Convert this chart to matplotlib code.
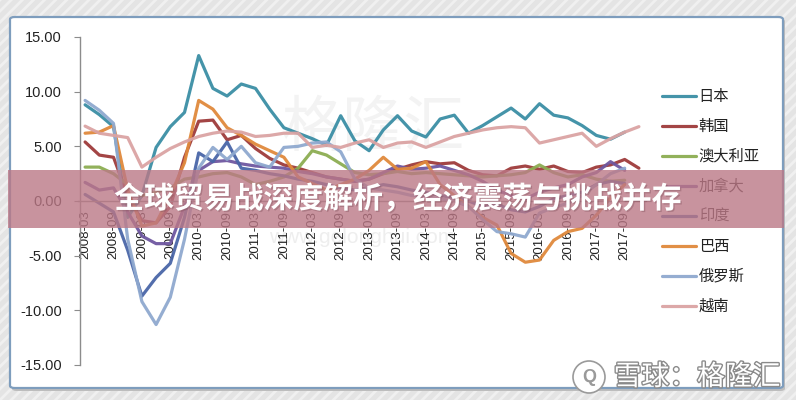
import matplotlib
matplotlib.use('Agg')
import matplotlib.pyplot as plt
import matplotlib.patheffects as pe
from matplotlib.patches import FancyBboxPatch, Rectangle, Ellipse
import numpy as np

nan = np.nan

quarters = ['2008-03', '2008-06', '2008-09', '2008-12', '2009-03', '2009-06', '2009-09', '2009-12',
            '2010-03', '2010-06', '2010-09', '2010-12', '2011-03', '2011-06', '2011-09', '2011-12',
            '2012-03', '2012-06', '2012-09', '2012-12', '2013-03', '2013-06', '2013-09', '2013-12',
            '2014-03', '2014-06', '2014-09', '2014-12', '2015-03', '2015-06', '2015-09', '2015-12',
            '2016-03', '2016-06', '2016-09', '2016-12', '2017-03', '2017-06', '2017-09', '2017-12']

japan = [8.8, 7.9, 6.8, -1.5, 0.5, 4.9, 6.8, 8.1, 13.3, 10.3, 9.6, 10.7, 10.3, 8.4, 6.7, 6.2,
         5.7, 5.1, 7.8, 5.5, 4.6, 6.5, 7.8, 6.4, 5.85, 7.5, 7.85, 6.2, 6.9, 7.7, 8.5, 7.5,
         8.9, 7.85, 7.6, 6.9, 6.0, 5.65, 6.3, nan]
korea = [5.4, 4.2, 4.0, 0.5, -1.8, -2.0, -0.5, 4.0, 7.3, 7.4, 5.6, 6.0, 4.8, 3.9, 3.3, 3.0,
         2.6, 2.2, 2.0, 1.8, 2.0, 2.5, 2.9, 3.3, 3.6, 3.4, 3.5, 2.8, 2.4, 2.3, 3.0, 3.2,
         2.9, 3.2, 2.7, 2.6, 3.1, 3.3, 3.8, 3.0]
australia = [3.1, 3.1, 2.5, 1.5, 0.5, 0.8, 1.2, 2.0, 2.2, 2.5, 2.6, 2.2, 1.5, 1.8, 2.2, 3.0,
             4.6, 4.2, 3.4, 2.6, 2.4, 2.5, 2.7, 2.5, 2.6, 2.5, 2.4, 2.3, 2.2, 2.3, 2.4, 2.6,
             3.3, 2.6, 2.2, 2.4, 2.0, 1.8, 1.9, nan]
canada = [1.7, 1.0, 1.2, -1.0, -3.2, -3.9, -3.9, -0.5, 2.8, 3.6, 3.7, 3.4, 3.2, 3.1, 3.0, 2.7,
          2.5, 2.2, 2.0, 1.8, 2.0, 2.6, 3.2, 2.9, 3.0, 3.2, 2.8, 2.4, 1.8, 1.0, 0.5, 0.2,
          0.8, 1.2, 1.5, 2.2, 2.6, 3.6, 2.8, nan]
india = [0.6, -0.2, -1.0, -4.5, -8.7, -7.0, -5.7, -1.5, 4.4, 3.6, 5.4, 3.0, 2.8, 2.5, 2.3, 2.0,
         1.8, 1.5, 1.2, 1.0, 1.2, 1.5, 1.3, 1.0, 0.8, 0.5, 0.3, 0.0, -0.5, -0.3, -0.8, -1.0,
         -0.5, 0.2, 0.5, 0.8, 1.5, 1.8, 1.6, nan]
brazil = [6.2, 6.3, 6.9, 1.0, -2.3, -2.0, 0.5, 3.5, 9.2, 8.4, 6.7, 6.0, 5.2, 4.6, 4.0, 2.2,
          1.6, 1.0, 1.5, 2.0, 2.8, 4.0, 2.9, 3.0, 3.6, 1.5, 0.5, -0.5, -1.5, -2.2, -4.8, -5.6,
          -5.4, -3.6, -2.8, -2.5, -1.3, 0.3, 1.5, nan]
russia = [9.2, 8.3, 7.1, -3.5, -9.2, -11.3, -8.8, -3.5, 3.0, 4.9, 3.8, 5.0, 3.5, 3.1, 4.9, 5.0,
          5.3, 5.4, 4.5, 2.0, 1.2, 1.0, 0.8, 0.5, 0.4, 0.2, 0.0, -0.5, -1.7, -2.8, -3.0, -3.3,
          -1.1, -0.6, -0.2, 0.5, 1.5, 2.5, 3.0, nan]
vietnam = [6.85, 6.2, 6.0, 5.8, 3.1, 4.0, 4.8, 5.4, 5.9, 6.2, 6.4, 6.3, 5.9, 6.0, 6.2, 6.2,
           4.9, 5.1, 4.9, 5.3, 5.6, 4.9, 5.3, 5.4, 4.9, 5.4, 5.9, 6.2, 6.5, 6.7, 6.8, 6.7,
           5.3, 5.6, 5.9, 6.2, 5.0, 5.7, 6.3, 6.8]

series_names = ['日本', '韩国', '澳大利亚', '加拿大', '印度', '巴西', '俄罗斯', '越南']
series_values = [japan, korea, australia, canada, india, brazil, russia, vietnam]
series_colors = ['#3b8ea5', '#9e3b3b', '#8cad52', '#6f57a0', '#4a66a8', '#e0893c', '#8fa9cf', '#dba3a3']

y_ticks = [-15, -10, -5, 0, 5, 10, 15]
title = '全球贸易战深度解析，经济震荡与挑战并存'
watermark = '雪球：格隆汇'

plt.rcParams['font.family'] = ['Liberation Sans', 'Noto Sans CJK SC', 'DejaVu Sans']
plt.rcParams['hatch.linewidth'] = 2.0

W, H = 796, 400
fig = plt.figure(figsize=(W / 100, H / 100), dpi=100)
fig.patch.set_facecolor('#e4e4e4')


def fx(px):
    return px / W


def fy(py):
    return 1 - py / H


# striped background
bg = Rectangle((0, 0), 1, 1, transform=fig.transFigure, facecolor='#e4e4e4',
               edgecolor='#f0f0f0', hatch='///', lw=0, zorder=-10)
fig.add_artist(bg)

# white framed panel
shadow = FancyBboxPatch((fx(12), fy(391)), fx(785) - fx(12), fy(19) - fy(391),
                        boxstyle='round,pad=0,rounding_size=0.006', transform=fig.transFigure,
                        facecolor='#bdbdbd', edgecolor='none', zorder=-6)
fig.add_artist(shadow)
frame = FancyBboxPatch((fx(10), fy(388)), fx(783) - fx(10), fy(17) - fy(388),
                       boxstyle='round,pad=0,rounding_size=0.006', transform=fig.transFigure,
                       facecolor='white', edgecolor='#7e9dbd', lw=1.6, zorder=-5)
fig.add_artist(frame)

ax = fig.add_axes([fx(78), fy(365), fx(646) - fx(78), fy(37) - fy(365)])
ax.set_facecolor('none')

# spine placement first (it resets tick objects)
for s in ['top', 'right']:
    ax.spines[s].set_visible(False)
ax.spines['left'].set_position(('data', -0.36))
ax.spines['bottom'].set_position(('data', 0))
ax.spines['left'].set_color('#8c8c8c')
ax.spines['left'].set_linewidth(1.0)
ax.spines['bottom'].set_color('#8c8c8c')
ax.spines['bottom'].set_linewidth(1.0)

x = np.arange(len(quarters))

# faint site watermark inside the plot
ax.text(0.5, 0.39, 'www.gelonghui.com', transform=ax.transAxes, ha='center', va='center',
        fontsize=15, color='#eeeeee', zorder=0)
ax.text(0.52, 0.72, '格隆汇', transform=ax.transAxes, ha='center', va='center',
        fontsize=44, color='#f3f3f3', family=['Noto Sans CJK SC'], zorder=0)

for name, vals, col in zip(series_names, series_values, series_colors):
    ax.plot(x, vals, color=col, lw=2.3, label=name, alpha=0.95,
            solid_joinstyle='round', solid_capstyle='round', zorder=2)

ax.set_xlim(-0.5, len(quarters) - 0.5)
ax.set_ylim(-15, 15)
ax.set_yticks(y_ticks)
ax.set_yticklabels([f'{v:.2f}' for v in y_ticks], fontsize=10.5, color='#222222')
ax.set_xticks(x[::2])
ax.set_xticklabels(quarters[::2], fontsize=9.5, color='#222222')
ax.tick_params(axis='y', length=4, color='#8c8c8c', pad=9)
ax.tick_params(axis='x', length=0, pad=7, labelrotation=90)

leg = ax.legend(loc='upper left', bbox_to_anchor=(fx(662), fy(88)), bbox_transform=fig.transFigure,
                frameon=False, prop={'family': ['Noto Sans CJK SC'], 'size': 11},
                handlelength=2.2, handletextpad=0.2, labelspacing=0.85, borderaxespad=0,
                borderpad=0)
for t in leg.get_texts():
    t.set_color('#222222')

# pink banner with title
banner = Rectangle((fx(8), fy(228)), fx(784) - fx(8), fy(170) - fy(228), transform=fig.transFigure,
                   facecolor='#bb7886', alpha=0.8, edgecolor='none', zorder=10)
fig.add_artist(banner)
fig.text(fx(398), fy(199), title, ha='center', va='center', color='white', fontsize=21.5,
         fontweight='bold', family=['Noto Sans CJK SC'], zorder=11,
         path_effects=[pe.withSimplePatchShadow(offset=(1, -1), shadow_rgbFace='#7a4a55', alpha=0.35)])

# corner watermark
logo = Ellipse((fx(589), fy(377)), 32 / W, 32 / H, transform=fig.transFigure, facecolor='white',
               edgecolor='#9a9a9a', lw=1.2, zorder=11)
fig.add_artist(logo)
fig.text(fx(589), fy(377), 'Q', ha='center', va='center', color='#9a9a9a', fontsize=13,
         fontweight='bold', zorder=12)
fig.text(fx(697), fy(377), watermark, ha='center', va='center', color='white', fontsize=20,
         family=['Noto Sans CJK SC'], zorder=11,
         path_effects=[pe.withStroke(linewidth=2, foreground='#8a8a8a')])

fig.savefig('out.png', dpi=100, facecolor=fig.get_facecolor())
